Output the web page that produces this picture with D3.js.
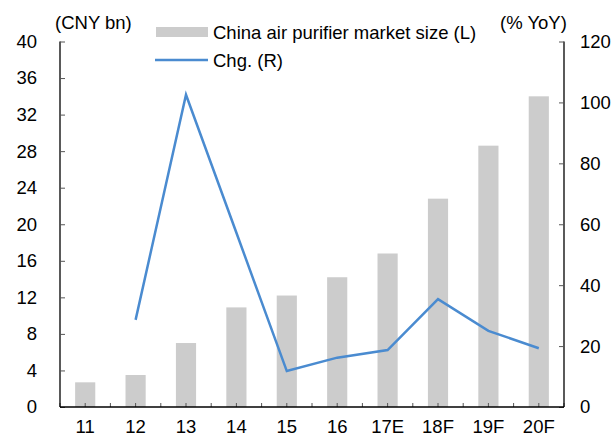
<!DOCTYPE html>
<html><head><meta charset="utf-8">
<script src="https://cdn.jsdelivr.net/npm/d3@7"></script>
<style>body{margin:0;background:#fff}text{font-family:"Liberation Sans",Arial,sans-serif;fill:#000}</style>
</head><body><svg id="c" width="612" height="437"></svg>
<script>
const categories = ["11","12","13","14","15","16","17E","18F","19F","20F"];
const marketSize = [2.7,3.5,7.0,10.9,12.2,14.2,16.8,22.8,28.6,34.0];
const yoyChg = [null,28.6,102.5,57.2,11.8,16.2,18.7,35.4,25.0,19.3];
const leftTicks = [0,4,8,12,16,20,24,28,32,36,40];
const rightTicks = [0,20,40,60,80,100,120];
const barLabel = "China air purifier market size (L)";
const lineLabel = "Chg. (R)";

const svg = d3.select("#c");
const L=60,R=564,T=41.5,B=407;
const x = d3.scaleBand().domain(categories).range([L,R]);
const yL = d3.scaleLinear().domain([0,40]).range([B,T]);
const yR = d3.scaleLinear().domain([0,120]).range([B,T]);
const fs = 18.5;

// bars
svg.append("g").selectAll("rect").data(categories).join("rect")
  .attr("x",d=>x(d)+x.bandwidth()*0.3).attr("width",x.bandwidth()*0.4)
  .attr("y",(d,i)=>yL(marketSize[i])).attr("height",(d,i)=>B-yL(marketSize[i]))
  .attr("fill","#cccccc");

// x axis ticks (half-category)
const xt=[];
categories.forEach(c=>{xt.push(x(c));xt.push(x(c)+x.bandwidth()/2);});
xt.push(R);
svg.append("g").selectAll("line").data(xt).join("line")
  .attr("x1",d=>d).attr("x2",d=>d).attr("y1",B).attr("y2",B-4)
  .attr("stroke","#555").attr("stroke-width",1);

// line
const pts = categories.map((c,i)=>[x(c)+x.bandwidth()/2,yoyChg[i]]).filter(p=>p[1]!=null);
svg.append("path").attr("d",d3.line().x(p=>p[0]).y(p=>yR(p[1]))(pts))
  .attr("fill","none").attr("stroke","#4a8bd0").attr("stroke-width",2.5);

// axes
const gl = svg.append("g").attr("transform",`translate(${L},0)`)
  .call(d3.axisLeft(yL).tickValues(leftTicks).tickSize(-5).tickPadding(23).tickFormat(d3.format("d")));
const gr = svg.append("g").attr("transform",`translate(${R},0)`)
  .call(d3.axisRight(yR).tickValues(rightTicks).tickSize(-5).tickPadding(16).tickFormat(d3.format("d")));
const gb = svg.append("g").attr("transform",`translate(0,${B})`)
  .call(d3.axisBottom(x).tickSize(0).tickPadding(13));
[gl,gr,gb].forEach(g=>{
  g.selectAll("text").attr("font-size",fs).attr("font-family","Liberation Sans, Arial, sans-serif").attr("fill","#000");
  g.select(".domain").attr("stroke","#000").attr("stroke-width",1.3);
  g.selectAll(".tick line").attr("stroke","#555");
});
gb.select(".domain").attr("d",`M${L},0H${R}`);
gl.select(".domain").attr("d",`M0,${T}V${B}`);
gr.select(".domain").attr("d",`M0,${T}V${B}`);

// unit labels
svg.append("text").attr("x",55).attr("y",28.5).attr("font-size",fs).text("(CNY bn)");
svg.append("text").attr("x",500).attr("y",28.5).attr("font-size",fs).text("(% YoY)");

// legend
svg.append("rect").attr("x",156).attr("y",27).attr("width",52).attr("height",10).attr("fill","#cccccc");
svg.append("text").attr("x",213).attr("y",38.5).attr("font-size",fs).text(barLabel);
svg.append("line").attr("x1",155).attr("x2",208).attr("y1",60).attr("y2",60).attr("stroke","#4a8bd0").attr("stroke-width",2.5);
svg.append("text").attr("x",213).attr("y",66.5).attr("font-size",fs).text(lineLabel);
</script></body></html>
